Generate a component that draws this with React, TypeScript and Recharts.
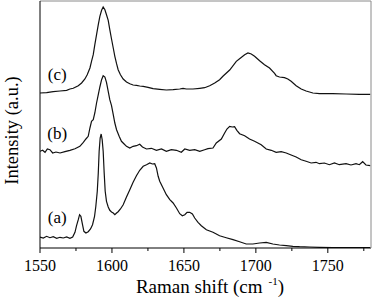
import React from 'react';
import { LineChart, Line, XAxis, YAxis, ReferenceDot } from 'recharts';

// Raman shift (cm^-1) and intensity (a.u., offset spectra)
const shiftA = [1550.0, 1552.3, 1554.6, 1556.9, 1559.2, 1561.6, 1563.9, 1566.2, 1568.5, 1570.8, 1572.7, 1574.3, 1575.4, 1576.6, 1577.5, 1578.4, 1579.4, 1580.5, 1581.9, 1583.5, 1585.1, 1586.5, 1587.9, 1588.8, 1589.8, 1590.5, 1591.1, 1591.8, 1592.5, 1593.2, 1593.9, 1594.6, 1595.3, 1596.2, 1597.4, 1598.5, 1599.7, 1600.9, 1602.0, 1603.2, 1604.3, 1605.9, 1607.8, 1610.1, 1612.4, 1614.7, 1617.0, 1619.3, 1621.7, 1624.0, 1626.3, 1628.1, 1629.7, 1630.9, 1632.1, 1633.2, 1635.5, 1637.8, 1640.2, 1642.5, 1644.8, 1647.1, 1648.9, 1650.6, 1652.2, 1654.0, 1655.9, 1657.5, 1659.8, 1662.1, 1665.6, 1670.2, 1674.8, 1679.4, 1684.1, 1688.7, 1693.3, 1697.9, 1702.6, 1707.2, 1711.8, 1716.4, 1721.1, 1725.7, 1730.3, 1737.2, 1744.2, 1753.4, 1762.7, 1771.9, 1779.5];
const intensityA = [11.0, 10.0, 11.7, 10.3, 11.3, 9.7, 10.7, 10.0, 11.0, 9.7, 11.0, 15.7, 22.3, 28.3, 33.3, 31.7, 24.3, 16.7, 15.0, 16.3, 19.0, 23.3, 31.7, 41.7, 56.7, 75.0, 96.7, 110.0, 114.0, 108.3, 96.7, 75.0, 56.7, 46.7, 41.0, 37.7, 36.0, 35.0, 33.3, 35.0, 36.3, 39.0, 43.3, 51.0, 58.3, 65.7, 72.3, 77.7, 81.7, 83.3, 85.0, 84.0, 84.3, 80.0, 71.7, 66.7, 60.0, 53.3, 48.3, 45.0, 40.0, 34.3, 32.3, 33.3, 35.7, 35.7, 34.0, 30.0, 25.7, 22.3, 18.3, 15.7, 12.3, 10.3, 8.3, 6.3, 4.0, 4.0, 5.0, 5.7, 4.0, 3.0, 2.3, 1.7, 1.3, 1.0, 0.7, 0.5, 0.4, 0.3, 0.3];

const shiftB = [1550.0, 1551.8, 1553.5, 1555.1, 1556.9, 1558.8, 1561.1, 1563.9, 1567.3, 1570.8, 1574.3, 1577.7, 1580.1, 1581.9, 1583.5, 1584.7, 1585.8, 1587.0, 1588.1, 1589.3, 1590.5, 1591.6, 1592.8, 1593.9, 1595.1, 1596.2, 1597.4, 1598.5, 1599.7, 1600.9, 1602.0, 1603.2, 1605.0, 1606.6, 1608.3, 1610.1, 1612.4, 1614.7, 1617.0, 1619.3, 1621.2, 1624.0, 1627.4, 1630.9, 1634.4, 1637.8, 1641.3, 1644.8, 1648.2, 1650.6, 1654.0, 1657.5, 1661.0, 1664.4, 1666.7, 1670.2, 1672.5, 1676.0, 1678.3, 1679.9, 1681.8, 1683.6, 1685.2, 1686.8, 1688.7, 1692.2, 1695.6, 1699.1, 1703.7, 1707.2, 1710.7, 1714.1, 1717.6, 1721.1, 1724.5, 1728.0, 1731.5, 1734.9, 1738.4, 1741.8, 1744.2, 1747.6, 1751.1, 1754.6, 1758.0, 1762.7, 1766.1, 1769.6, 1771.9, 1774.2, 1776.5, 1779.5];
const intensityB = [96.7, 97.7, 95.7, 99.0, 98.3, 95.0, 96.0, 95.0, 96.3, 97.7, 99.3, 101.7, 105.7, 109.0, 111.7, 120.0, 126.7, 128.3, 135.0, 145.0, 153.3, 161.0, 168.3, 172.3, 171.0, 165.7, 156.7, 148.3, 142.3, 133.3, 125.0, 118.3, 111.7, 106.7, 104.3, 101.7, 100.0, 101.7, 102.3, 103.7, 101.0, 99.0, 99.7, 97.7, 99.0, 96.7, 98.3, 97.7, 95.7, 99.0, 97.7, 98.3, 96.7, 98.3, 99.3, 100.0, 105.0, 109.0, 115.0, 119.0, 121.7, 121.0, 121.3, 117.7, 114.3, 112.3, 109.0, 106.7, 103.3, 99.0, 97.7, 95.7, 96.3, 95.0, 93.0, 91.0, 88.3, 86.7, 85.0, 85.7, 84.3, 85.0, 83.3, 85.0, 83.3, 84.3, 83.0, 84.3, 83.3, 86.3, 83.0, 82.3];

const shiftC = [1550.0, 1554.6, 1559.2, 1563.9, 1568.5, 1570.8, 1573.1, 1576.6, 1578.9, 1581.2, 1582.8, 1584.7, 1585.8, 1587.0, 1588.1, 1589.3, 1590.5, 1591.6, 1592.8, 1593.9, 1595.1, 1596.2, 1597.4, 1598.5, 1599.7, 1600.9, 1602.0, 1603.2, 1604.3, 1605.9, 1607.8, 1610.1, 1612.4, 1614.7, 1617.0, 1619.3, 1621.7, 1625.1, 1628.6, 1633.2, 1637.8, 1642.5, 1647.1, 1649.4, 1651.7, 1656.3, 1661.0, 1664.4, 1667.9, 1671.4, 1674.8, 1677.1, 1681.8, 1686.4, 1688.7, 1692.2, 1694.5, 1696.8, 1699.1, 1702.6, 1706.0, 1709.5, 1713.0, 1714.1, 1716.4, 1719.9, 1722.2, 1724.5, 1728.0, 1731.5, 1734.9, 1739.6, 1744.2, 1753.4, 1762.7, 1771.9, 1779.5];
const intensityC = [155.0, 155.3, 156.3, 157.0, 157.7, 159.0, 159.7, 162.3, 165.0, 169.0, 173.3, 180.0, 186.7, 193.3, 203.3, 213.3, 223.3, 231.7, 237.7, 241.0, 238.3, 233.3, 227.7, 218.3, 209.0, 200.0, 191.7, 184.3, 178.3, 173.3, 169.0, 166.0, 164.3, 163.0, 162.7, 162.0, 161.7, 160.7, 159.3, 158.7, 158.0, 158.3, 159.0, 159.7, 159.0, 159.0, 159.7, 160.3, 162.3, 165.0, 168.3, 171.7, 178.0, 186.7, 189.3, 193.3, 195.0, 194.0, 191.7, 187.3, 183.3, 180.0, 174.7, 172.3, 171.0, 170.3, 169.0, 166.7, 162.3, 159.0, 157.0, 155.0, 154.3, 154.3, 154.0, 153.7, 153.7];

const xTicks = [1550, 1575, 1600, 1625, 1650, 1675, 1700, 1725, 1750, 1775];
const spectrumLabels = ['(a)', '(b)', '(c)'];
const labelShift = 1562;
const labelHeights = [31, 115, 174];

const toPoints = (xs: number[], ys: number[]) => xs.map((x, i) => ({ x, y: ys[i] }));
const dataA = toPoints(shiftA, intensityA);
const dataB = toPoints(shiftB, intensityB);
const dataC = toPoints(shiftC, intensityC);

const FONT = 'Liberation Serif, Times New Roman, serif';
const txt = { fontFamily: FONT };

const XTick = (props: any) => {
  const { x, y, payload } = props;
  const major = payload.value % 50 === 0;
  return (
    <g>
      <line x1={x} x2={x} y1={y} y2={y + (major ? 5 : 3)} stroke="#000" strokeWidth={1} />
      {major && (
        <text x={x} y={y + 23} textAnchor="middle" fontSize={16} style={txt} fill="#000">
          {payload.value}
        </text>
      )}
    </g>
  );
};

const XLabel = (props: any) => {
  const vb = props.viewBox;
  return (
    <text x={vb.x + vb.width / 2 + 4.5} y={vb.y + 45} textAnchor="middle" fontSize={19} style={txt} fill="#000">
      Raman shift (cm
      <tspan fontSize={11} dx={6} dy={-8}>-1</tspan>
      <tspan dy={8}>)</tspan>
    </text>
  );
};

const YLabel = (props: any) => {
  const vb = props.viewBox;
  const cx = vb.x - 21;
  const cy = vb.y + vb.height / 2 + 6;
  return (
    <text x={cx} y={cy} transform={`rotate(-90, ${cx}, ${cy})`} textAnchor="middle" fontSize={18.5} style={txt} fill="#000">
      Intensity (a.u.)
    </text>
  );
};

const SpecLabel = (text: string) => (props: any) => {
  const vb = props.viewBox;
  return (
    <text x={vb.cx ?? vb.x} y={(vb.cy ?? vb.y) + 6} textAnchor="middle" fontSize={17} style={txt} fill="#000">
      {text}
    </text>
  );
};

export default function App() {
  return (
    <div style={{ position: 'absolute', left: 0, top: 0, width: 374, height: 300, background: '#fff' }}>
      <LineChart width={374} height={300} margin={{ top: 0, right: 2, left: 39, bottom: 0 }}>
        <XAxis
          xAxisId="b"
          dataKey="x"
          type="number"
          domain={[1550, 1780]}
          allowDataOverflow
          ticks={xTicks}
          tick={<XTick />}
          tickLine={false}
          tickSize={0}
          tickMargin={0}
          height={52}
          axisLine={{ stroke: '#000', strokeWidth: 1 }}
          interval={0}
          label={{ content: <XLabel /> }}
        />
        <XAxis
          xAxisId="t"
          orientation="top"
          dataKey="x"
          type="number"
          domain={[1550, 1780]}
          height={1}
          tick={false}
          tickLine={false}
          axisLine={{ stroke: '#8a8a8a', strokeWidth: 1 }}
        />
        <YAxis
          yAxisId="l"
          type="number"
          domain={[0, 247]}
          allowDataOverflow
          width={1}
          tick={false}
          tickLine={false}
          axisLine={{ stroke: '#000', strokeWidth: 1 }}
          label={{ content: <YLabel /> }}
        />
        <YAxis
          yAxisId="r"
          orientation="right"
          type="number"
          domain={[0, 247]}
          width={1}
          tick={false}
          tickLine={false}
          axisLine={{ stroke: '#8a8a8a', strokeWidth: 1 }}
        />
        <Line xAxisId="b" yAxisId="l" data={dataA} dataKey="y" type="linear" stroke="#111" strokeWidth={1.2} dot={false} isAnimationActive={false} />
        <Line xAxisId="b" yAxisId="l" data={dataB} dataKey="y" type="linear" stroke="#111" strokeWidth={1.2} dot={false} isAnimationActive={false} />
        <Line xAxisId="b" yAxisId="l" data={dataC} dataKey="y" type="linear" stroke="#111" strokeWidth={1.2} dot={false} isAnimationActive={false} />
        {spectrumLabels.map((t, i) => (
          <ReferenceDot
            key={t}
            xAxisId="b"
            yAxisId="l"
            x={labelShift}
            y={labelHeights[i]}
            r={0}
            fill="none"
            stroke="none"
            label={{ content: SpecLabel(t) }}
          />
        ))}
      </LineChart>
    </div>
  );
}
